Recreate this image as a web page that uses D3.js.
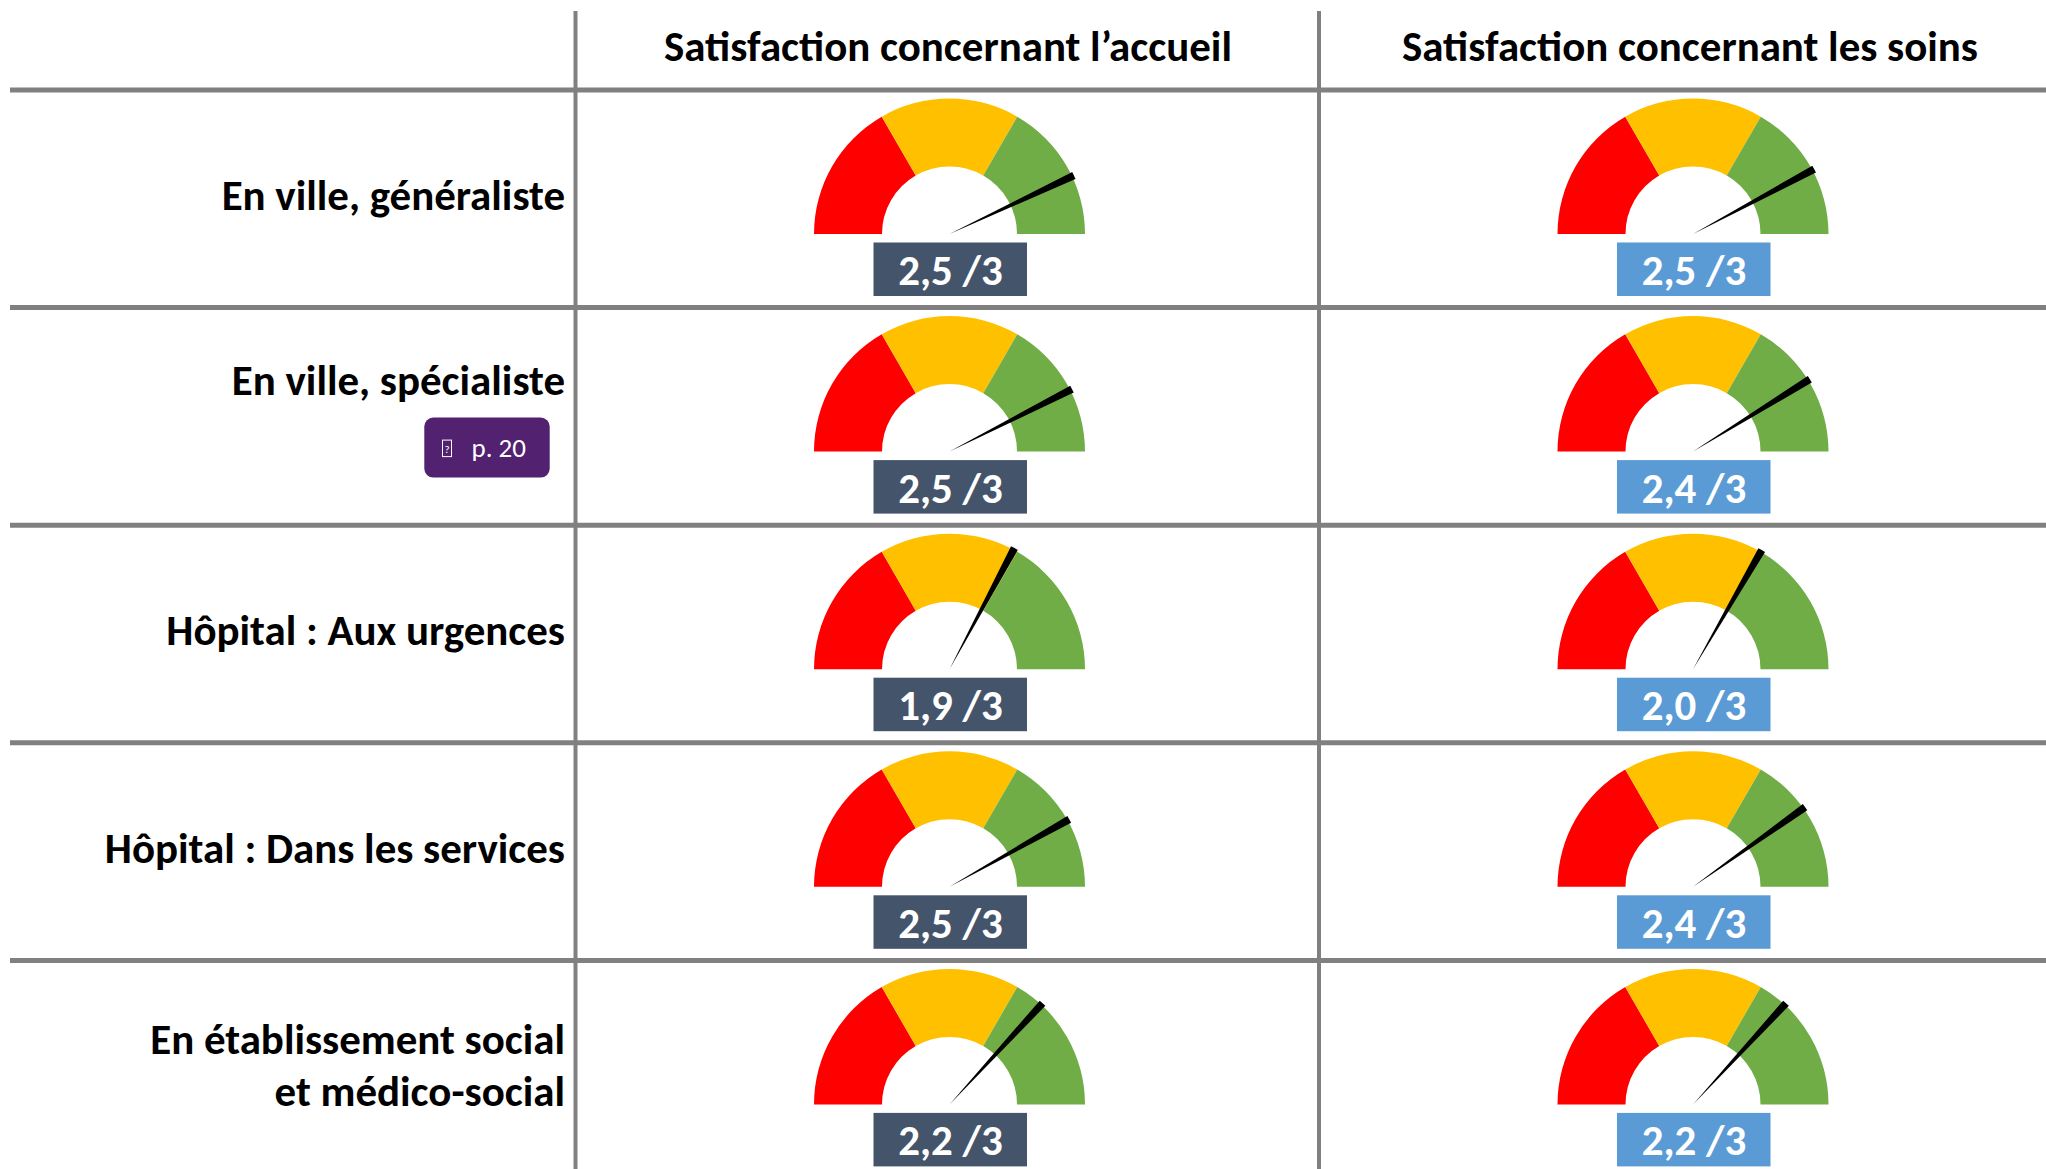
<!DOCTYPE html>
<html>
<head>
<meta charset="utf-8">
<script src="https://cdn.jsdelivr.net/npm/d3@7"></script>
<style>
  html, body { margin: 0; padding: 0; background: #fff; }
  svg { display: block; }
  text { font-family: Calibri, Carlito, Lato, sans-serif; }
</style>
</head>
<body>
<svg id="chart" width="2046" height="1169"></svg>
<script>
// data
var columns = ['Satisfaction concernant l\u2019accueil', 'Satisfaction concernant les soins'];
var rowLabels = [
    ['En ville, g\u00e9n\u00e9raliste'],
    ['En ville, sp\u00e9cialiste'],
    ['H\u00f4pital : Aux urgences'],
    ['H\u00f4pital : Dans les services'],
    ['En \u00e9tablissement social', 'et m\u00e9dico-social']
];
var accueil = [2.58, 2.55, 1.97, 2.51, 2.21];
var soins = [2.53, 2.47, 2.00, 2.41, 2.21];
var maxScore = 3;
var bandLimits = [0, 1, 2, 3];
var badgeRow = 1;
var badgeText = 'p. 20';

var W = 2046, H = 1169;
var svg = d3.select('#chart');

var grey = '#808080';
var bandColors = ['#ff0000', '#ffc000', '#70ad47'];
var boxColors = ['#44546a', '#5b9bd5'];

var rowH = 217.6;
var yRow = d3.scaleLinear().domain([0, rowLabels.length]).range([90, 90 + rowH * rowLabels.length]);
var xCol = d3.scaleLinear().domain([0, 1]).range([949.5, 1693]);
var angle = d3.scaleLinear().domain([0, maxScore]).range([-Math.PI / 2, Math.PI / 2]);

var rOut = 135.5, rIn = 67.5;

// header
var headers = svg.selectAll('text.head')
    .data(columns)
    .enter()
    .append('text')
    .attr('class', 'head')
    .attr('x', (d, i) => i == 0 ? 948 : 1690)
    .attr('y', 61)
    .attr('text-anchor', 'middle')
    .attr('font-weight', 700)
    .attr('font-size', 40)
    .text(d => d);

// fit font size to the width of the header in the picture
var len = headers.node().getComputedTextLength();
var fs = 40 * 568 / len;
headers.attr('font-size', fs);

// grid lines
svg.append('g')
    .selectAll('line')
    .data(d3.range(rowLabels.length))
    .enter()
    .append('line')
    .attr('x1', 10)
    .attr('x2', W)
    .attr('y1', d => yRow(d))
    .attr('y2', d => yRow(d))
    .attr('stroke', grey)
    .attr('stroke-width', 5);

svg.append('g')
    .selectAll('line')
    .data([575.5, 1319])
    .enter()
    .append('line')
    .attr('x1', d => d)
    .attr('x2', d => d)
    .attr('y1', 11)
    .attr('y2', H)
    .attr('stroke', grey)
    .attr('stroke-width', 4);

// row labels
rowLabels.forEach(function(lines, i) {
    var center = yRow(i) + rowH / 2;
    var base = center + 11;
    if (i == badgeRow) base = center - 21;
    var t = svg.append('text')
        .attr('text-anchor', 'end')
        .attr('font-weight', 700)
        .attr('font-size', fs);
    lines.forEach(function(l, j) {
        var off = (j - (lines.length - 1) / 2) * 52;
        t.append('tspan')
            .attr('x', 565)
            .attr('y', base + off)
            .text(l);
    });
});

// badge
var by = yRow(badgeRow);
var badge = svg.append('g');
badge.append('rect')
    .attr('x', 424.3)
    .attr('y', by + 110)
    .attr('width', 125.4)
    .attr('height', 60)
    .attr('rx', 9)
    .attr('fill', '#522170');
badge.append('rect')
    .attr('x', 442.5)
    .attr('y', by + 132.5)
    .attr('width', 9)
    .attr('height', 16.5)
    .attr('fill', 'none')
    .attr('stroke', '#fff')
    .attr('stroke-width', 1);
badge.append('text')
    .attr('x', 447)
    .attr('y', by + 145)
    .attr('text-anchor', 'middle')
    .attr('font-size', 11)
    .attr('fill', '#fff')
    .text('?');
badge.append('text')
    .attr('x', 471.5)
    .attr('y', by + 149.5)
    .attr('font-size', 27)
    .attr('fill', '#fff')
    .text(badgeText);

// gauges
var bandArc = d3.arc().innerRadius(rIn).outerRadius(rOut);
var needleArc = d3.arc().innerRadius(0).outerRadius(137.5);
var needleHalf = 1.6 * Math.PI / 180;
var fmt = v => (Math.floor(v * 10 + 1e-9) / 10).toFixed(1).replace('.', ',') + ' /' + maxScore;

[accueil, soins].forEach(function(vals, c) {
    vals.forEach(function(v, i) {
        var cx = xCol(c);
        var cy = yRow(i) + 144;
        var g = svg.append('g').attr('transform', 'translate(' + cx + ',' + cy + ')');

        g.selectAll('path.band')
            .data(bandColors)
            .enter()
            .append('path')
            .attr('class', 'band')
            .attr('d', (d, k) => bandArc({startAngle: angle(bandLimits[k]), endAngle: angle(bandLimits[k + 1])}))
            .attr('fill', d => d);

        g.append('path')
            .attr('d', needleArc({startAngle: angle(v) - needleHalf, endAngle: angle(v) + needleHalf}))
            .attr('fill', '#000');

        g.append('rect')
            .attr('x', -76)
            .attr('y', 8.5)
            .attr('width', 153.5)
            .attr('height', 53.5)
            .attr('fill', boxColors[c]);

        g.append('text')
            .attr('x', 1)
            .attr('y', 51)
            .attr('text-anchor', 'middle')
            .attr('font-weight', 700)
            .attr('font-size', fs)
            .attr('fill', '#fff')
            .text(fmt(v));
    });
});
</script>
</body>
</html>
